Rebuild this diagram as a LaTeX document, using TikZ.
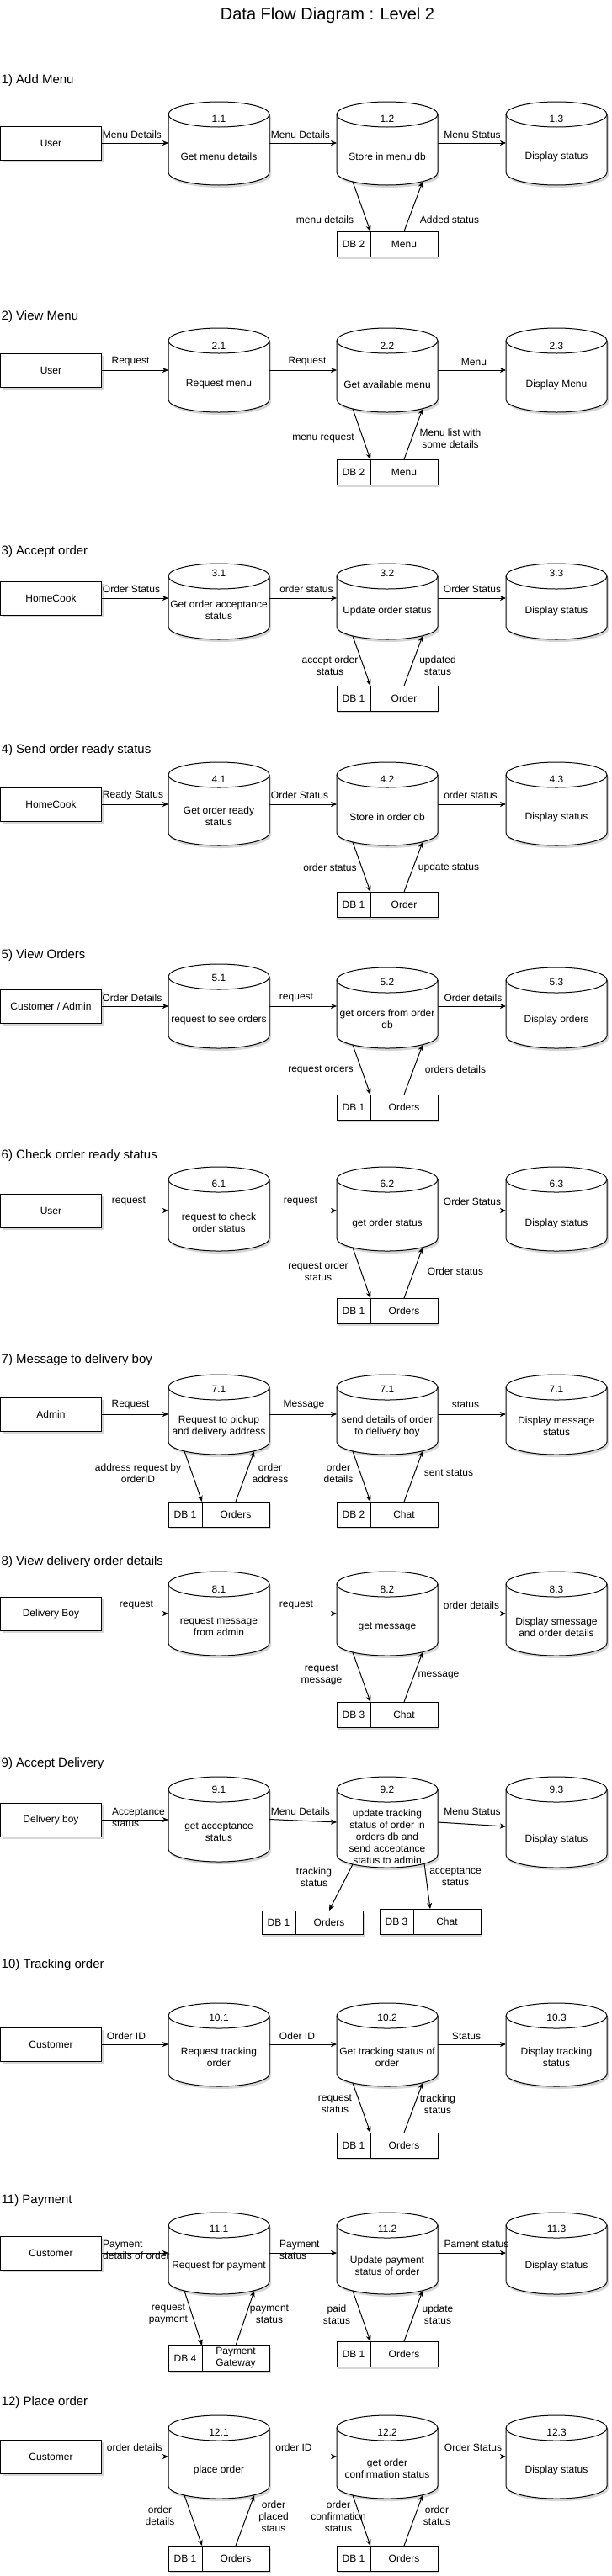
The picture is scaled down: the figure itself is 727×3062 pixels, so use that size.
\documentclass[tikz,border=0pt]{standalone}
\usepackage{fontspec}
\setmainfont{Liberation Sans}
\usetikzlibrary{arrows.meta,calc,shadows}

\tikzset{
 txt/.style={inner sep=0pt, align=center, font=\fontsize{12}{14}\selectfont},
 ltxt/.style={inner sep=0pt, align=left, anchor=west, font=\fontsize{12}{14}\selectfont},
 sechead/.style={inner sep=0pt, anchor=west, font=\fontsize{15}{18}\selectfont},
 arr/.style={line width=1pt, -{Stealth[length=7pt,width=6pt,inset=2pt]}},
 shad/.style={drop shadow={shadow xshift=2pt, shadow yshift=-3pt, opacity=0.16, fill=black}},
 entity/.style={draw, line width=1pt, fill=white, shad, minimum width=120pt, minimum height=40pt, inner sep=0pt, font=\fontsize{12}{14}\selectfont},
 dbcell/.style={draw, line width=1pt, fill=white, shad, inner sep=0pt, outer sep=0pt, align=center, font=\fontsize{12}{14}\selectfont},
 cylbox/.style={inner sep=0pt, outer sep=0pt, minimum width=120pt},
 cylline/.style={draw, line width=1pt, fill=white},
 cylshadow/.style={fill=black, opacity=0.16},
}

% cylinder: name, xleft, ytop, ybottom, number, number y, text, text y
\newcommand\cyl[8]{%
 \pgfmathsetmacro\cylH{#4-#3}%
 \pgfmathsetmacro\cylX{#2+60}%
 \pgfmathsetmacro\cylY{(#3+#4)/2}%
 \fill[cylshadow] ({#2+2},{#3+18}) arc[start angle=180,end angle=0,x radius=60pt,y radius=15pt] -- ({#2+122},{#4-12}) arc[start angle=0,end angle=-180,x radius=60pt,y radius=15pt] -- cycle;
 \path[cylline] ({#2},{#3+15}) arc[start angle=180,end angle=0,x radius=60pt,y radius=15pt] -- ({#2+120},{#4-15}) arc[start angle=0,end angle=-180,x radius=60pt,y radius=15pt] -- cycle;
 \draw[line width=1pt] ({#2},{#3+15}) arc[start angle=180,end angle=360,x radius=60pt,y radius=15pt];
 \node[cylbox, minimum height=\cylH pt] (#1) at (\cylX,\cylY) {};
 \node[txt] (#1n) at (\cylX,#6) {#5};
 \node[txt] (#1t) at (\cylX,#8) {#7};
}

% data store: name, xleft, ytop, ybottom, id, text
\newcommand\dbb[6]{%
 \pgfmathsetmacro\dbH{#4-#3}%
 \node[dbcell, minimum width=40pt, minimum height=\dbH pt, anchor=north west] (#1a) at (#2,#3) {#5};
 \node[dbcell, minimum width=80pt, minimum height=\dbH pt, anchor=north west] (#1b) at (#1a.north east) {#6};
}

% links down to store and up from store: cylinder, down target, up source
\newcommand\dblinks[3]{%
 \draw[arr] ($(#1.south west)+(19pt,4pt)$) -- (#2);
 \draw[arr] (#3) -- ($(#1.south east)+(-18pt,4pt)$);
}

% three horizontal flows: user, c1, c2, c3
\newcommand\flows[4]{%
 \draw[arr] (#1.east) -- (#2.west |- #1.east);
 \draw[arr] (#2.east |- #1.east) -- (#3.west |- #1.east);
 \draw[arr] (#3.east |- #1.east) -- (#4.west |- #1.east);
}

\begin{document}
\begin{tikzpicture}[x=1pt,y=-1pt]
\useasboundingbox[fill=white] (0,0) rectangle (727,3062);

\node[inner sep=0pt, font=\fontsize{20}{24}\selectfont] (title) at (389,18) {Data Flow Diagram : Level 2};

% ---------- 1 ----------
\node[sechead] (h1) at (1.5,96) {1) Add Menu};
\node[entity] (u1) at (60.5,170) {User};
\cyl{p1a}{200}{121}{220}{1.1}{141}{Get menu details}{186}
\cyl{p1b}{400}{121}{220}{1.2}{141}{Store in menu db}{186}
\cyl{p1c}{601}{121}{220}{1.3}{141}{Display status}{186}
\dbb{d1}{400}{275}{305}{DB 2}{Menu}
\flows{u1}{p1a}{p1b}{p1c}
\dblinks{p1b}{d1a.north east}{d1b.north}
\node[txt] (l1a) at (157,160) {Menu Details};
\node[txt] (l1b) at (357,160) {Menu Details};
\node[txt] (l1c) at (561,160) {Menu Status};
\node[txt] (l1d) at (386,261) {menu details};
\node[txt] (l1e) at (534,261) {Added status};

% ---------- 2 ----------
\node[sechead] (h2) at (1.5,377) {2) View Menu};
\node[entity] (u2) at (60.5,440) {User};
\cyl{p2a}{200}{390}{490}{2.1}{411}{Request menu}{457}
\cyl{p2b}{400}{390}{490}{2.2}{411}{Get available menu}{457}
\cyl{p2c}{601}{390}{490}{2.3}{411}{Display Menu}{457}
\dbb{d2}{400}{546}{576}{DB 2}{Menu}
\flows{u2}{p2a}{p2b}{p2c}
\dblinks{p2b}{d2a.north east}{d2b.north}
\node[txt] (l2a) at (155,430) {Request};
\node[txt] (l2b) at (365,430) {Request};
\node[txt] (l2c) at (563,430) {Menu};
\node[txt] (l2d) at (384,521) {menu request};
\node[txt] (l2e) at (535,521) {Menu list with\\some details};

% ---------- 3 ----------
\node[sechead] (h3) at (1.5,656) {3) Accept order};
\node[entity] (u3) at (60.5,711) {HomeCook};
\cyl{p3a}{200}{670}{760}{3.1}{681}{Get order acceptance\\status}{725}
\cyl{p3b}{400}{670}{760}{3.2}{681}{Update order status}{726}
\cyl{p3c}{601}{670}{760}{3.3}{681}{Display status}{726}
\dbb{d3}{400}{815}{845}{DB 1}{Order}
\flows{u3}{p3a}{p3b}{p3c}
\dblinks{p3b}{d3a.north east}{d3b.north}
\node[txt] (l3a) at (156,700) {Order Status};
\node[txt] (l3b) at (364,700) {order status};
\node[txt] (l3c) at (561,700) {Order Status};
\node[txt] (l3d) at (392,791) {accept order\\status};
\node[txt] (l3e) at (520,791) {updated\\status};

% ---------- 4 ----------
\node[sechead] (h4) at (1.5,892) {4) Send order ready status};
\node[entity] (u4) at (60.5,956) {HomeCook};
\cyl{p4a}{200}{906}{1005}{4.1}{926}{Get order ready\\status}{970}
\cyl{p4b}{400}{906}{1005}{4.2}{926}{Store in order db}{971}
\cyl{p4c}{601}{906}{1005}{4.3}{926}{Display status}{971}
\dbb{d4}{400}{1060}{1090}{DB 1}{Order}
\flows{u4}{p4a}{p4b}{p4c}
\dblinks{p4b}{d4a.north east}{d4b.north}
\node[txt] (l4a) at (158,945) {Ready Status};
\node[txt] (l4b) at (356,945) {Order Status};
\node[txt] (l4c) at (559,945) {order status};
\node[txt] (l4d) at (392,1031) {order status};
\node[txt] (l4e) at (533,1031) {update status};

% ---------- 5 ----------
\node[sechead] (h5) at (1.5,1136) {5) View Orders};
\node[entity] (u5) at (60.5,1196) {Customer / Admin};
\cyl{p5a}{200}{1146}{1246}{5.1}{1162}{request to see orders}{1212}
\cyl{p5b}{400}{1150}{1246}{5.2}{1167}{get orders from order\\db}{1211}
\cyl{p5c}{601}{1150}{1246}{5.3}{1167}{Display orders}{1212}
\dbb{d5}{400}{1301}{1331}{DB 1}{Orders}
\flows{u5}{p5a}{p5b}{p5c}
\dblinks{p5b}{d5a.north east}{d5b.north}
\node[txt] (l5a) at (157,1186) {Order Details};
\node[txt] (l5b) at (352,1186) {request};
\node[txt] (l5c) at (562,1186) {Order details};
\node[txt] (l5d) at (381,1271) {request orders};
\node[txt] (l5e) at (541,1271) {orders details};

% ---------- 6 ----------
\node[sechead] (h6) at (1.5,1374) {6) Check order ready status};
\node[entity] (u6) at (60.5,1439) {User};
\cyl{p6a}{200}{1387}{1487}{6.1}{1407}{request to check\\order status}{1453}
\cyl{p6b}{400}{1387}{1487}{6.2}{1407}{get order status}{1454}
\cyl{p6c}{601}{1387}{1487}{6.3}{1407}{Display status}{1454}
\dbb{d6}{400}{1543}{1573}{DB 1}{Orders}
\flows{u6}{p6a}{p6b}{p6c}
\dblinks{p6b}{d6a.north east}{d6b.north}
\node[txt] (l6a) at (153,1428) {request};
\node[txt] (l6b) at (357,1428) {request};
\node[txt] (l6c) at (561,1428) {Order Status};
\node[txt] (l6d) at (378,1511) {request order\\status};
\node[txt] (l6e) at (541,1511) {Order status};

% ---------- 7 ----------
\node[sechead] (h7) at (1.5,1617) {7) Message to delivery boy};
\node[entity] (u7) at (60.5,1681) {Admin};
\cyl{p7a}{200}{1634}{1729}{7.1}{1651}{Request to pickup\\and delivery address}{1695}
\cyl{p7b}{400}{1634}{1729}{7.1}{1651}{send details of order\\to delivery boy}{1695}
\cyl{p7c}{601}{1634}{1729}{7.1}{1651}{Display message\\status}{1695}
\dbb{d7L}{200}{1785}{1815}{DB 1}{Orders}
\dbb{d7R}{400}{1785}{1815}{DB 2}{Chat}
\flows{u7}{p7a}{p7b}{p7c}
\dblinks{p7a}{d7La.north east}{d7Lb.north}
\dblinks{p7b}{d7Ra.north east}{d7Rb.north}
\node[txt] (l7a) at (155,1670) {Request};
\node[txt] (l7b) at (361,1670) {Message};
\node[txt] (l7c) at (553,1670) {status};
\node[txt] (l7d) at (164,1751) {address request by\\orderID};
\node[txt] (l7e) at (321,1751) {order\\address};
\node[txt] (l7f) at (402,1751) {order\\details};
\node[txt] (l7g) at (533,1751) {sent status};

% ---------- 8 ----------
\node[sechead] (h8) at (1.5,1857) {8) View delivery order details};
\node[entity] (u8) at (60.5,1918) {Delivery Boy};
\cyl{p8a}{200}{1868}{1968}{8.1}{1889}{request message\\from admin}{1934}
\cyl{p8b}{400}{1868}{1968}{8.2}{1889}{get message}{1934}
\cyl{p8c}{601}{1868}{1968}{8.3}{1889}{Display smessage\\and order details}{1934}
\dbb{d8}{400}{2023}{2053}{DB 3}{Chat}
\flows{u8}{p8a}{p8b}{p8c}
\dblinks{p8b}{d8a.north east}{d8b.north}
\node[txt] (l8a) at (162,1908) {request};
\node[txt] (l8b) at (352,1908) {request};
\node[txt] (l8c) at (560,1908) {order details};
\node[txt] (l8d) at (382,1991) {request\\message};
\node[txt] (l8e) at (521,1991) {message};

% ---------- 9 ----------
\node[sechead] (h9) at (1.5,2097) {9) Accept Delivery};
\node[entity] (u9) at (60.5,2163) {Delivery boy};
\cyl{p9a}{200}{2112}{2213}{9.1}{2127}{get acceptance\\status}{2178}
\cyl{p9b}{400}{2112}{2220}{9.2}{2127}{update tracking\\status of order in\\orders db and\\send acceptance\\status to admin}{2183}
\cyl{p9c}{601}{2112}{2220}{9.3}{2127}{Display status}{2186}
\dbb{d9a}{311}{2271}{2299}{DB 1}{Orders}
\dbb{d9b}{451}{2269}{2299}{DB 3}{Chat}
\draw[arr] (u9.east) -- (p9a.west |- u9.east);
\draw[arr] (p9a.east) -- (p9b.west);
\draw[arr] (p9b.east) -- ([yshift=-5pt]p9c.west);
\draw[arr] ($(p9b.south west)+(19pt,4pt)$) -- (d9ab.north);
\draw[arr] ($(p9b.south east)+(-16pt,5pt)$) -- ($(d9bb.north west)+(20pt,0pt)$);
\node[ltxt] (l9a) at (133,2160) {Acceptance\\status};
\node[txt] (l9b) at (357,2153) {Menu Details};
\node[txt] (l9c) at (561,2153) {Menu Status};
\node[txt] (l9d) at (373,2231) {tracking\\status};
\node[txt] (l9e) at (541,2231) {acceptance\\status};

% ---------- 10 ----------
\node[sechead] (h10) at (1.5,2336) {10) Tracking order};
\node[entity] (u10) at (60.5,2430) {Customer};
\cyl{p10a}{200}{2381}{2480}{10.1}{2398}{Request tracking\\order}{2445}
\cyl{p10b}{400}{2381}{2480}{10.2}{2398}{Get tracking status of\\order}{2445}
\cyl{p10c}{601}{2381}{2480}{10.3}{2398}{Display tracking\\status}{2445}
\dbb{d10}{400}{2535}{2565}{DB 1}{Orders}
\flows{u10}{p10a}{p10b}{p10c}
\dblinks{p10b}{d10a.north east}{d10b.north}
\node[txt] (l10a) at (150,2420) {Order ID};
\node[txt] (l10b) at (353,2420) {Oder ID};
\node[txt] (l10c) at (554,2420) {Status};
\node[txt] (l10d) at (398,2501) {request\\status};
\node[txt] (l10e) at (520,2501) {tracking\\status};

% ---------- 11 ----------
\node[sechead] (h11) at (1.5,2616) {11) Payment};
\node[entity] (u11) at (60.5,2678) {Customer};
\cyl{p11a}{200}{2630}{2727}{11.1}{2649}{Request for payment}{2693}
\cyl{p11b}{400}{2630}{2727}{11.2}{2649}{Update payment\\status of order}{2693}
\cyl{p11c}{601}{2630}{2727}{11.3}{2649}{Display status}{2693}
\dbb{d11L}{200}{2788}{2818}{DB 4}{Payment\\Gateway}
\dbb{d11R}{400}{2783}{2813}{DB 1}{Orders}
\flows{u11}{p11a}{p11b}{p11c}
\dblinks{p11a}{d11La.north east}{d11Lb.north}
\dblinks{p11b}{d11Ra.north east}{d11Rb.north}
\node[ltxt] (l11a) at (122,2674.5) {Payment\\details of order};
\node[ltxt] (l11b) at (332,2674.5) {Payment\\status};
\node[txt] (l11c) at (566,2667) {Pament status};
\node[txt] (l11d) at (200,2751) {request\\payment};
\node[txt] (l11e) at (320,2751) {payment\\status};
\node[txt] (l11f) at (400,2751) {paid\\status};
\node[txt] (l11g) at (520,2751) {update\\status};

% ---------- 12 ----------
\node[sechead] (h12) at (1.5,2856) {12) Place order};
\node[entity] (u12) at (60.5,2920) {Customer};
\cyl{p12a}{200}{2871}{2970}{12.1}{2891}{place order}{2936}
\cyl{p12b}{400}{2871}{2970}{12.2}{2891}{get order\\confirmation status}{2934}
\cyl{p12c}{601}{2871}{2970}{12.3}{2891}{Display status}{2936}
\dbb{d12L}{200}{3026}{3056}{DB 1}{Orders}
\dbb{d12R}{400}{3026}{3056}{DB 1}{Orders}
\flows{u12}{p12a}{p12b}{p12c}
\dblinks{p12a}{d12La.north east}{d12Lb.north}
\dblinks{p12b}{d12Ra.north east}{d12Rb.north}
\node[txt] (l12a) at (160,2909) {order details};
\node[txt] (l12b) at (349,2909) {order ID};
\node[txt] (l12c) at (562,2909) {Order Status};
\node[txt] (l12d) at (190,2990) {order\\details};
\node[txt] (l12e) at (325,2991) {order\\placed\\staus};
\node[txt] (l12f) at (402,2991) {order\\confirmation\\status};
\node[txt] (l12g) at (519,2990) {order\\status};

\end{tikzpicture}
\end{document}
